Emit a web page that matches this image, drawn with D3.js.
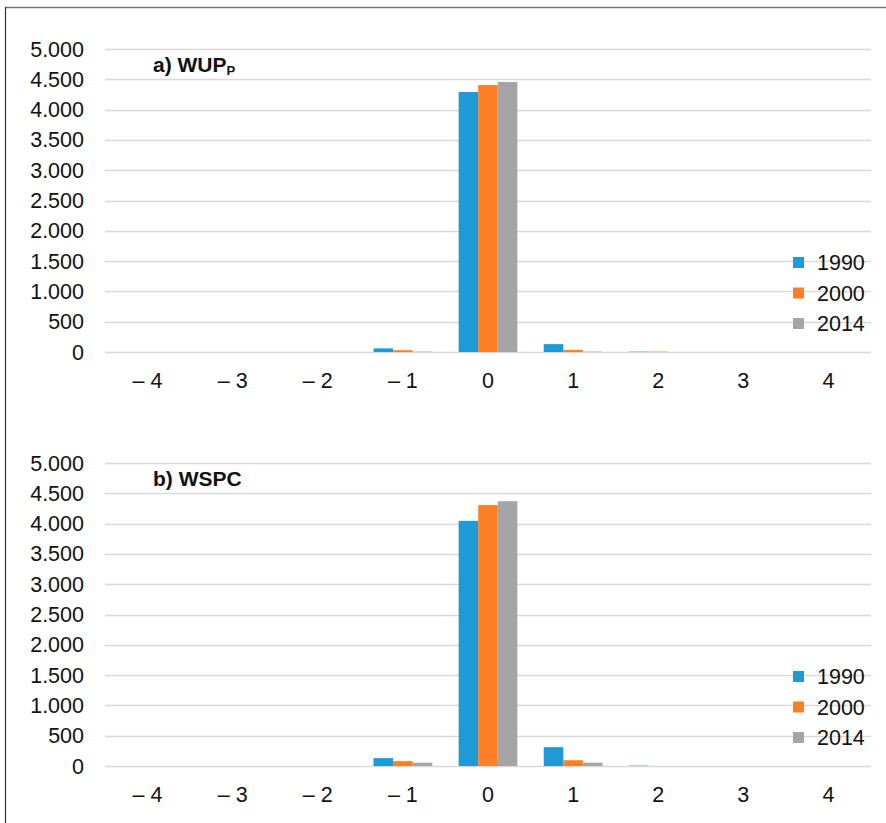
<!DOCTYPE html>
<html>
<head>
<meta charset="utf-8">
<script src="https://cdn.jsdelivr.net/npm/d3@7"></script>
<style>
  body { margin: 0; background: #fff; }
  svg { display: block; font-family: "Liberation Sans", Arial, sans-serif; }
</style>
</head>
<body>
<svg id="chart" width="886" height="823"></svg>
<script>
// categories and values
const categories = [-4, -3, -2, -1, 0, 1, 2, 3, 4];
const tickLabels = ["\u2013 4", "\u2013 3", "\u2013 2", "\u2013 1", "0", "1", "2", "3", "4"];
const years = ["1990", "2000", "2014"];
const yTicks = [0, 500, 1000, 1500, 2000, 2500, 3000, 3500, 4000, 4500, 5000];

// panel a) WUP_P
const wup1990 = [0, 0, 0, 60, 4290, 130, 6, 0, 0];
const wup2000 = [0, 0, 0, 30, 4405, 35, 6, 0, 0];
const wup2014 = [0, 0, 0, 6, 4455, 6, 0, 0, 0];

// panel b) WSPC
const wspc1990 = [0, 0, 0, 130, 4045, 310, 6, 0, 0];
const wspc2000 = [0, 0, 0, 80, 4305, 95, 0, 0, 0];
const wspc2014 = [0, 0, 0, 55, 4370, 55, 0, 0, 0];

const colors = ["#1f9ad6", "#ff7f27", "#a5a5a5"];

const svg = d3.select("#chart");

// frame (top and left edges only are visible)
svg.append("line").attr("x1", 5).attr("x2", 886).attr("y1", 7.5).attr("y2", 7.5)
    .style("stroke", "#777").style("stroke-width", 1.5);
svg.append("line").attr("x1", 5.5).attr("x2", 5.5).attr("y1", 7).attr("y2", 823)
    .style("stroke", "#333").style("stroke-width", 1.2);

// thousands separated with a dot, e.g. 1.500
const fmt = v => d3.format(",")(v).replace(/,/g, ".");

function drawPanel(top, bottom, series, title, sub, legendTop) {
    const g = svg.append("g");

    const x0 = d3.scaleBand().domain(categories).range([105, 871])
        .paddingInner(0.31).paddingOuter(0.155);
    const x1 = d3.scaleBand().domain(years).range([0, x0.bandwidth()]);
    const y = d3.scaleLinear().domain([0, 5000]).range([bottom, top]);

    // gridlines
    g.selectAll(".grid").data(yTicks).enter().append("line")
        .attr("x1", 105).attr("x2", 871)
        .attr("y1", d => Math.round(y(d)) + 0.5).attr("y2", d => Math.round(y(d)) + 0.5)
        .style("stroke", "#d9d9d9").style("stroke-width", 1.5);

    // y labels
    g.selectAll(".ylab").data(yTicks).enter().append("text")
        .attr("x", 84).attr("y", d => y(d) + 7.5)
        .attr("text-anchor", "end")
        .style("font-size", "21.5px").style("fill", "#111")
        .text(d => fmt(d));

    // bars
    series.forEach((vals, si) => {
        g.selectAll(".bar" + si).data(vals).enter().append("rect")
            .attr("x", (d, i) => x0(categories[i]) + x1(years[si]))
            .attr("width", x1.bandwidth())
            .attr("y", d => y(d))
            .attr("height", d => bottom - y(d))
            .style("fill", colors[si]);
    });

    // x labels
    g.selectAll(".xlab").data(categories).enter().append("text")
        .attr("x", d => x0(d) + x0.bandwidth() / 2)
        .attr("y", bottom + 36)
        .attr("text-anchor", "middle")
        .style("font-size", "21.5px").style("fill", "#111")
        .text((d, i) => tickLabels[i]);

    // title
    const t = g.append("text").attr("x", 153).attr("y", top + 23)
        .style("font-size", "21px").style("font-weight", "bold").style("fill", "#111")
        .text(title);
    if (sub) {
        t.append("tspan").attr("dy", 3).style("font-size", "13px").text(sub);
    }

    // legend
    years.forEach((yr, i) => {
        const ly = legendTop + i * 30.5;
        g.append("rect").attr("x", 793).attr("y", ly - 13).attr("width", 11).attr("height", 11)
            .style("fill", colors[i]);
        g.append("text").attr("x", 817).attr("y", ly)
            .style("font-size", "21.5px").style("fill", "#111").text(yr);
    });
}

drawPanel(49, 352, [wup1990, wup2000, wup2014], "a) WUP", "P", 270);
drawPanel(463, 766, [wspc1990, wspc2000, wspc2014], "b) WSPC", null, 684);
</script>
</body>
</html>
